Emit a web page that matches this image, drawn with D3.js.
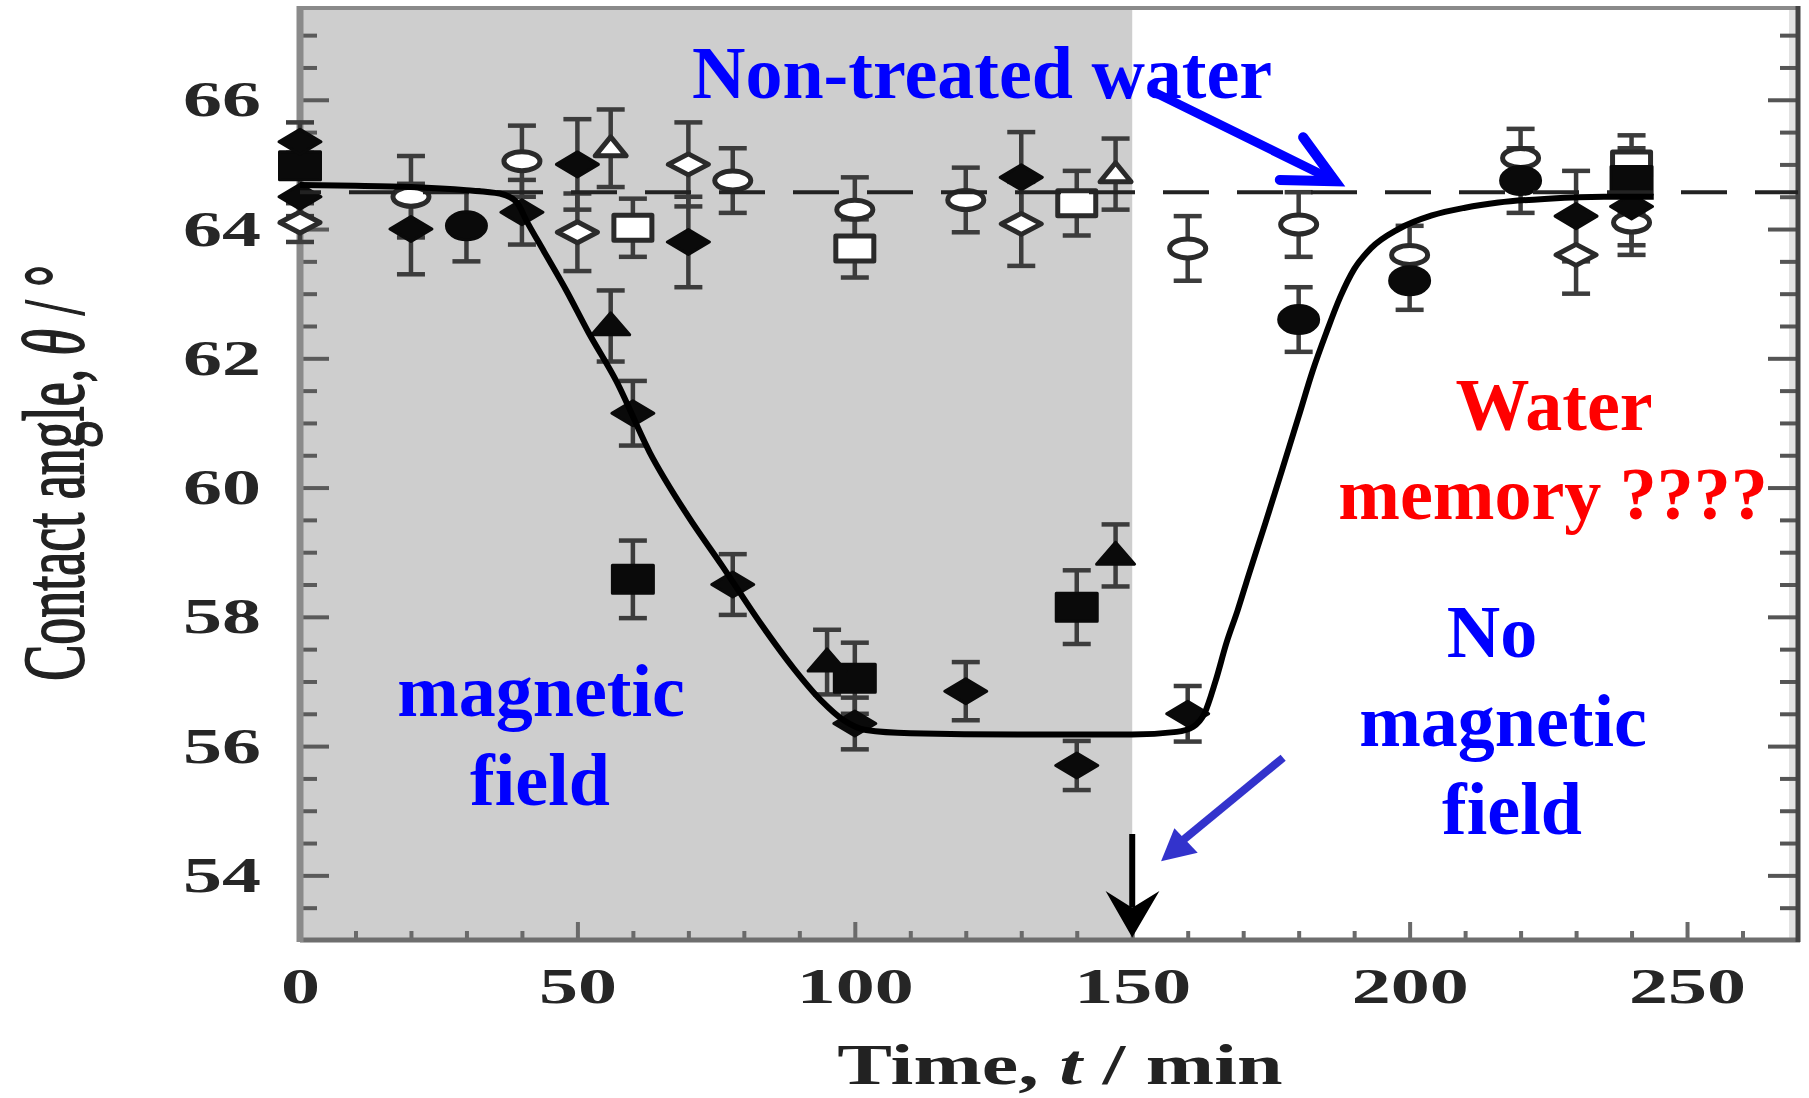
<!DOCTYPE html>
<html>
<head>
<meta charset="utf-8">
<script src="https://cdn.jsdelivr.net/npm/d3@7"></script>
<style>
  body { margin: 0; background: #fff; }
  svg { display: block; }
</style>
</head>
<body>
<div id="chart"></div>
<script>
// Points: [time (min), contact angle (deg), error]
const filledDiamond = [
  [0, 65.35, 0.3], [0, 64.5, 0.3], [20, 64.0, 0.7], [40, 64.26, 0.5],
  [50, 65.0, 0.7], [60, 61.15, 0.5], [70, 63.8, 0.7], [78, 58.5, 0.47],
  [100, 56.35, 0.4], [120, 56.85, 0.45], [130, 64.8, 0.7], [140, 55.7, 0.38],
  [160, 56.5, 0.43], [230, 64.2, 0.7], [240, 64.35, 0.6]
];
const filledSquare = [
  [0, 64.98, 0.2], [60, 58.58, 0.6], [100, 57.05, 0.55], [140, 58.15, 0.57], [240, 64.75, 0.5]
];
const filledTriangle = [[56, 62.5, 0.55], [95, 57.3, 0.5], [147, 58.95, 0.48]];
const filledCircle = [[30, 64.05, 0.55], [180, 62.6, 0.5], [200, 63.2, 0.45], [220, 64.75, 0.5]];
const openCircle = [
  [20, 64.5, 0.63], [40, 65.05, 0.55], [78, 64.75, 0.5], [100, 64.3, 0.5],
  [120, 64.45, 0.5], [160, 63.7, 0.5], [180, 64.07, 0.5], [200, 63.6, 0.45],
  [220, 65.1, 0.45], [240, 64.1, 0.5]
];
const openDiamond = [[0, 64.1, 0.3], [50, 63.95, 0.6], [70, 65.0, 0.65], [130, 64.08, 0.65], [230, 63.6, 0.6]];
const openSquare = [[60, 64.02, 0.45], [100, 63.7, 0.45], [140, 64.4, 0.5], [240, 65.0, 0.45]];
const openTriangle = [[56, 65.25, 0.6], [147, 64.85, 0.55]];

// fitted curve, read point by point
const fitCurve = [
  [0, 64.68], [10, 64.67], [20, 64.65], [30, 64.6], [36, 64.55], [39, 64.42], [41, 64.1],
  [44, 63.65], [48, 63.05], [52, 62.4], [57, 61.65], [63, 60.55], [70, 59.55], [76, 58.8],
  [83, 57.9], [89, 57.2], [94, 56.7], [98, 56.4], [102, 56.25], [110, 56.2], [130, 56.18],
  [150, 56.18], [158, 56.22], [161, 56.3], [163, 56.5], [165, 57.0], [167, 57.6], [169, 58.1],
  [171, 58.65], [174, 59.45], [177, 60.27], [180, 61.1], [182.5, 61.8], [185, 62.4],
  [187.5, 62.95], [190, 63.38], [193, 63.7], [198, 64.0], [204, 64.21], [210, 64.33],
  [216, 64.41], [225, 64.47], [235, 64.5], [244, 64.5]
];

const nonTreatedLevel = 64.57;
const fieldOffTime = 150;
const xTicksMajor = [0, 50, 100, 150, 200, 250];
const xTicksMinor = [10, 20, 30, 40, 60, 70, 80, 90, 110, 120, 130, 140, 160, 170, 180, 190, 210, 220, 230, 240, 260];
const yTicksMajor = [54, 56, 58, 60, 62, 64, 66];
const yTicksMinor = d3.range(53.5, 67.01, 0.5).filter(v => v % 2 !== 0);

// annotation arrows in data coordinates
const waterArrowShaft = [[153.9, 66.12], [186.6, 64.74]];
const waterArrowHead = [[180.8, 65.42], [186.6, 64.74], [176.6, 64.76]];
const fieldArrowShaft = [[177.2, 55.82], [158.5, 54.5]];
const fieldArrowHead = [[155.2, 54.22], [157.6, 54.73], [161.8, 54.35]];

const margin = { top: 8, right: 11, bottom: 158, left: 300 };
const width = 1809 - margin.left - margin.right;
const height = 1098 - margin.top - margin.bottom;
const serif = "'Liberation Serif', 'Times New Roman', serif";

const svg = d3.select("#chart")
  .append("svg")
  .attr("width", 1809)
  .attr("height", 1098)
  .append("g")
  .attr("transform", "translate(" + margin.left + "," + margin.top + ")");

const x = d3.scaleLinear().domain([0, 270]).range([0, width]);
const y = d3.scaleLinear().domain([53, 67.42]).range([height, 0]);

// shaded magnetic-field period
svg.append("rect")
  .attr("x", x(0))
  .attr("y", 0)
  .attr("width", x(fieldOffTime) - x(0))
  .attr("height", height)
  .attr("fill", "#cecece");

// faint strip inside the right border
svg.append("rect")
  .attr("x", width - 9)
  .attr("y", 0)
  .attr("width", 7)
  .attr("height", height)
  .attr("fill", "#e2e2e2");

// axes: ticks point inward
function styleTicks(g, color) {
  g.select(".domain").remove();
  g.selectAll("line").attr("stroke", color).attr("stroke-width", 4);
}

svg.append("g")
  .call(d3.axisLeft(y).tickValues(yTicksMinor).tickSize(-17).tickFormat(""))
  .call(styleTicks, "#5a5a5a");
const yAxis = svg.append("g")
  .call(d3.axisLeft(y).tickValues(yTicksMajor).tickSize(-29).tickPadding(25))
  .call(styleTicks, "#5a5a5a");

svg.append("g")
  .attr("transform", "translate(" + width + ",0)")
  .call(d3.axisRight(y).tickValues(yTicksMinor).tickSize(-18).tickFormat(""))
  .call(styleTicks, "#555");
svg.append("g")
  .attr("transform", "translate(" + width + ",0)")
  .call(d3.axisRight(y).tickValues(yTicksMajor).tickSize(-30).tickFormat(""))
  .call(styleTicks, "#555");

svg.append("g")
  .attr("transform", "translate(0," + height + ")")
  .call(d3.axisBottom(x).tickValues(xTicksMinor).tickSize(-9).tickFormat(""))
  .call(styleTicks, "#6a6a6a");
const xAxis = svg.append("g")
  .attr("transform", "translate(0," + height + ")")
  .call(d3.axisBottom(x).tickValues(xTicksMajor).tickSize(-18))
  .call(styleTicks, "#6a6a6a");

[xAxis, yAxis].forEach(g => {
  g.attr("font-family", serif).attr("font-size", 50);
  g.selectAll("text")
    .attr("fill", "#262626")
    .style("font-weight", "bold")
    .attr("transform", "scale(1.56,1)");
});
xAxis.selectAll("text").attr("y", 63).attr("dy", null);

// frame
svg.append("line").attr("x1", 0).attr("x2", width).attr("y1", 0).attr("y2", 0)
  .attr("stroke", "#8a8a8a").attr("stroke-width", 4);
svg.append("line").attr("x1", 0).attr("x2", width + 2).attr("y1", height).attr("y2", height)
  .attr("stroke", "#6e6e6e").attr("stroke-width", 5);
svg.append("line").attr("x1", 0).attr("x2", 0).attr("y1", -2).attr("y2", height + 2)
  .attr("stroke", "#8a8a8a").attr("stroke-width", 7);
svg.append("line").attr("x1", width).attr("x2", width).attr("y1", -2).attr("y2", height + 2)
  .attr("stroke", "#444").attr("stroke-width", 5);

// axis titles
svg.append("text")
  .attr("transform", "translate(" + (83 - margin.left) + "," + (473 - margin.top) + ") rotate(-90) scale(1,1.6)")
  .attr("text-anchor", "middle")
  .style("font-family", serif)
  .style("font-size", "54px")
  .attr("fill", "#222")
  .attr("stroke", "#222")
  .attr("stroke-width", 1.2)
  .call(t => {
    t.append("tspan").text("Contact angle, ");
    t.append("tspan").style("font-style", "italic").text("θ");
    t.append("tspan").text(" / °");
  });

svg.append("text")
  .attr("transform", "translate(" + (1060 - margin.left) + "," + (1084 - margin.top) + ") scale(1.44,1)")
  .attr("text-anchor", "middle")
  .style("font-family", serif)
  .style("font-size", "57px")
  .style("font-weight", "bold")
  .attr("fill", "#222")
  .call(t => {
    t.append("tspan").text("Time, ");
    t.append("tspan").style("font-style", "italic").text("t");
    t.append("tspan").text(" / min");
  });

// marker shapes
function shapePath(type, w, h) {
  const a = w / 2, b = h / 2;
  if (type === "square") return `M${-a},${-b}H${a}V${b}H${-a}Z`;
  if (type === "diamond") return `M${-a},0L0,${-b}L${a},0L0,${b}Z`;
  if (type === "triangle") return `M0,${-b * 1.2}L${a},${b * 0.8}H${-a}Z`;
  return `M${-a},0A${a},${b} 0 1,0 ${a},0A${a},${b} 0 1,0 ${-a},0Z`;
}

const series = [
  { data: openCircle, type: "circle", filled: false, w: 36, h: 19 },
  { data: openDiamond, type: "diamond", filled: false, w: 40, h: 21 },
  { data: openSquare, type: "square", filled: false, w: 38, h: 25 },
  { data: openTriangle, type: "triangle", filled: false, w: 31, h: 19 },
  { data: filledCircle, type: "circle", filled: true, w: 40, h: 28 },
  { data: filledSquare, type: "square", filled: true, w: 41, h: 28 },
  { data: filledTriangle, type: "triangle", filled: true, w: 38, h: 22 },
  { data: filledDiamond, type: "diamond", filled: true, w: 42, h: 25 }
];

// error bars
const allPoints = series.flatMap(s => s.data);
const bars = svg.append("g").attr("stroke", "#3c3c3c").attr("stroke-width", 4.5);
allPoints.forEach(d => {
  const cx = x(d[0]);
  bars.append("line").attr("x1", cx).attr("x2", cx).attr("y1", y(d[1] - d[2])).attr("y2", y(d[1] + d[2]));
  [d[1] - d[2], d[1] + d[2]].forEach(v => {
    bars.append("line").attr("x1", cx - 14).attr("x2", cx + 14).attr("y1", y(v)).attr("y2", y(v));
  });
});

// markers
series.forEach(s => {
  svg.append("g")
    .selectAll("path")
    .data(s.data)
    .enter()
    .append("path")
    .attr("transform", d => "translate(" + x(d[0]) + "," + y(d[1]) + ")")
    .attr("d", shapePath(s.type, s.w, s.h))
    .attr("fill", s.filled ? "#0a0a0a" : "#fff")
    .attr("stroke", s.filled ? "#0a0a0a" : "#2a2a2a")
    .attr("stroke-width", s.filled ? 3 : 5)
    .attr("stroke-linejoin", "round");
});

// non-treated water level (dashed)
svg.append("line")
  .attr("x1", x(0)).attr("x2", x(270))
  .attr("y1", y(nonTreatedLevel)).attr("y2", y(nonTreatedLevel))
  .attr("stroke", "#222")
  .attr("stroke-width", 4)
  .attr("stroke-dasharray", "46,28")
  .attr("stroke-dashoffset", 25);

// fitted curve
const line = d3.line()
  .x(d => x(d[0]))
  .y(d => y(d[1]))
  .curve(d3.curveMonotoneX);
svg.append("path")
  .datum(fitCurve)
  .attr("d", line)
  .attr("fill", "none")
  .attr("stroke", "#000")
  .attr("stroke-width", 6);

// arrows
const pline = d3.line().x(d => x(d[0])).y(d => y(d[1]));
svg.append("path").datum(waterArrowShaft).attr("d", pline)
  .attr("stroke", "#0000ff").attr("stroke-width", 9).attr("stroke-linecap", "round").attr("fill", "none");
svg.append("path").datum(waterArrowHead).attr("d", pline)
  .attr("stroke", "#0000ff").attr("stroke-width", 10).attr("stroke-linecap", "round")
  .attr("stroke-linejoin", "miter").attr("fill", "none");

svg.append("path").datum(fieldArrowShaft).attr("d", pline)
  .attr("stroke", "#3333cc").attr("stroke-width", 8).attr("fill", "none");
svg.append("path").datum(fieldArrowHead).attr("d", d => pline(d) + "Z")
  .attr("fill", "#3333cc");

// black arrow marking field switched off
svg.append("line")
  .attr("x1", x(fieldOffTime)).attr("x2", x(fieldOffTime))
  .attr("y1", y(54.64)).attr("y2", y(53.5))
  .attr("stroke", "#000").attr("stroke-width", 6);
svg.append("path")
  .datum([[fieldOffTime - 4.8, 53.76], [fieldOffTime, 53.04], [fieldOffTime + 4.9, 53.76], [fieldOffTime, 53.5]])
  .attr("d", d => pline(d) + "Z")
  .attr("fill", "#000");

// annotation texts
function label(txt, px, py, color, anchor) {
  svg.append("text")
    .attr("x", px - margin.left)
    .attr("y", py - margin.top)
    .attr("text-anchor", anchor || "middle")
    .style("font-family", serif)
    .style("font-size", "74px")
    .style("font-weight", "bold")
    .attr("fill", color)
    .text(txt);
}
label("Non-treated water", 692, 98, "#0000ff", "start");
label("magnetic", 541, 716, "#0000ff");
label("field", 540, 805, "#0000ff");
label("Water", 1554, 430, "#ff0000");
label("memory ????", 1553, 519, "#ff0000");
label("No", 1492, 657, "#0000ff");
label("magnetic", 1503, 746, "#0000ff");
label("field", 1512, 834, "#0000ff");
</script>
</body>
</html>
